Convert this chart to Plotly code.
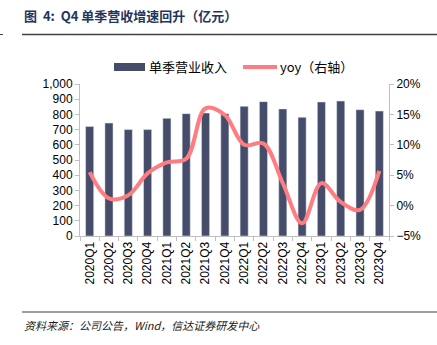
import plotly.graph_objects as go

quarters = ["2020Q1", "2020Q2", "2020Q3", "2020Q4", "2021Q1", "2021Q2", "2021Q3", "2021Q4",
            "2022Q1", "2022Q2", "2022Q3", "2022Q4", "2023Q1", "2023Q2", "2023Q3", "2023Q4"]
revenue = [721, 743, 700, 700, 774, 805, 809, 805, 853, 884, 836, 781, 882, 888, 831, 822]
yoy = [5.5, 1.2, 1.7, 5.3, 7.1, 7.7, 16.0, 14.9, 10.0, 10.2, 3.7, -2.9, 3.7, 0.6, -0.7, 5.7]

W, H = 437, 345
L, R, T, B = 80, 389, 84, 236

def px(x):
    return (x - L) / (R - L)

def py(y):
    return (B - y) / (B - T)

BAR_C = "#454D6B"
LINE_C = "#FF7C80"
AX_C = "#BFBFBF"
FONT = "Liberation Sans, Arial, Noto Sans CJK SC"
CJK = "Noto Sans CJK SC, Liberation Sans"

fig = go.Figure()
fig.add_trace(go.Bar(x=quarters, y=revenue, name="单季营业收入", marker_color=BAR_C,
                     showlegend=False))
fig.add_trace(go.Scatter(x=quarters, y=yoy, name="yoy（右轴）", yaxis="y2", mode="lines",
                         line=dict(color=LINE_C, width=4, shape="spline", smoothing=1),
                         showlegend=False))

shapes = [
    dict(type="line", xref="paper", yref="paper", x0=px(22), x1=px(437), y0=py(34.5), y1=py(34.5),
         line=dict(color="#404040", width=1.5)),
    dict(type="line", xref="paper", yref="paper", x0=px(0), x1=px(3), y0=py(34.5), y1=py(34.5),
         line=dict(color="#404040", width=1)),
    dict(type="line", xref="paper", yref="paper", x0=px(22), x1=px(437), y0=py(312), y1=py(312),
         line=dict(color="#808080", width=1.5)),
    # legend swatches
    dict(type="rect", xref="paper", yref="paper", x0=px(114), x1=px(145), y0=py(71), y1=py(63),
         fillcolor=BAR_C, line=dict(width=0)),
    dict(type="line", xref="paper", yref="paper", x0=px(243), x1=px(277), y0=py(67), y1=py(67),
         line=dict(color=LINE_C, width=4)),
]

annotations = [
    dict(text="<b>图&nbsp;&nbsp;4:&nbsp;&nbsp;Q4 单季营收增速回升（亿元）</b>", xref="paper", yref="paper",
         x=px(22), y=py(15), xanchor="left", yanchor="middle", showarrow=False,
         font=dict(family=CJK, size=13, color="#1F3560")),
    dict(text="<i>资料来源：公司公告，Wind，信达证券研发中心</i>", xref="paper", yref="paper",
         x=px(22), y=py(325), xanchor="left", yanchor="middle", showarrow=False,
         font=dict(family=CJK, size=11, color="#222222")),
    dict(text="单季营业收入", xref="paper", yref="paper", x=px(147), y=py(67),
         xanchor="left", yanchor="middle", showarrow=False,
         font=dict(family=CJK, size=13, color="#000000")),
    dict(text="yoy（右轴）", xref="paper", yref="paper", x=px(278), y=py(67),
         xanchor="left", yanchor="middle", showarrow=False,
         font=dict(family=CJK, size=13, color="#000000")),
]

fig.update_layout(
    width=W, height=H,
    margin=dict(l=L, r=W - R, t=T, b=H - B),
    paper_bgcolor="white", plot_bgcolor="white",
    bargap=0.58,
    showlegend=False,
    font=dict(family=FONT, size=12, color="#000000"),
    xaxis=dict(type="category", tickangle=-90, showline=True, linecolor=AX_C, linewidth=1,
               ticks="outside", tickson="boundaries", ticklen=4, tickcolor=AX_C,
               showgrid=False, tickfont=dict(size=12)),
    yaxis=dict(range=[0, 1000], dtick=100, tickformat=",", showline=True, linecolor=AX_C,
               ticks="outside", ticklen=4, tickcolor=AX_C, showgrid=False, zeroline=False),
    yaxis2=dict(range=[-5, 20], dtick=5, ticksuffix="%", overlaying="y", side="right",
                showline=True, linecolor=AX_C, ticks="outside", ticklen=4, tickcolor=AX_C,
                showgrid=False, zeroline=False),
    shapes=shapes,
    annotations=annotations,
)

fig.write_html("out.html")
